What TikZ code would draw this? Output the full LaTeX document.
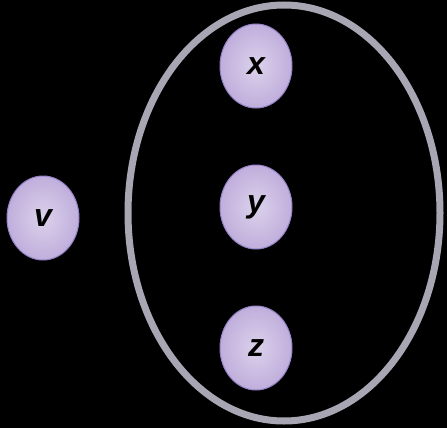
\documentclass[tikz,border=0pt]{standalone}
\usepackage{fontspec}
\setsansfont{Liberation Sans}
\usetikzlibrary{shapes.geometric}
\definecolor{nodefill}{HTML}{C4B3DE}
\definecolor{nodeedge}{HTML}{9482C6}
\definecolor{ringgray}{HTML}{A8A6B2}
\tikzset{
  vert/.style={ellipse, draw=nodeedge, line width=1pt, inner color=nodefill!60!white, outer color=nodefill!90!nodeedge,
    minimum width=72pt, minimum height=84pt, inner sep=0pt,
    font=\sffamily\bfseries\itshape\fontsize{32}{32}\selectfont, text=black},
  ring/.style={draw=ringgray, line width=7pt}
}
\begin{document}
\begin{tikzpicture}[x=1pt,y=1pt]
\fill[black] (0,0) rectangle (447,-428);
\useasboundingbox (0,0) rectangle (447,-428);
\node[ring, ellipse, minimum width=312pt, minimum height=416pt, inner sep=0pt] (group) at (284,-213) {};
\node[vert] (x) at (256,-66) {x};
\node[vert] (y) at (256,-207) {y};
\node[vert] (z) at (256,-348) {z};
\node[vert] (v) at (43,-218) {v};
\end{tikzpicture}
\end{document}
